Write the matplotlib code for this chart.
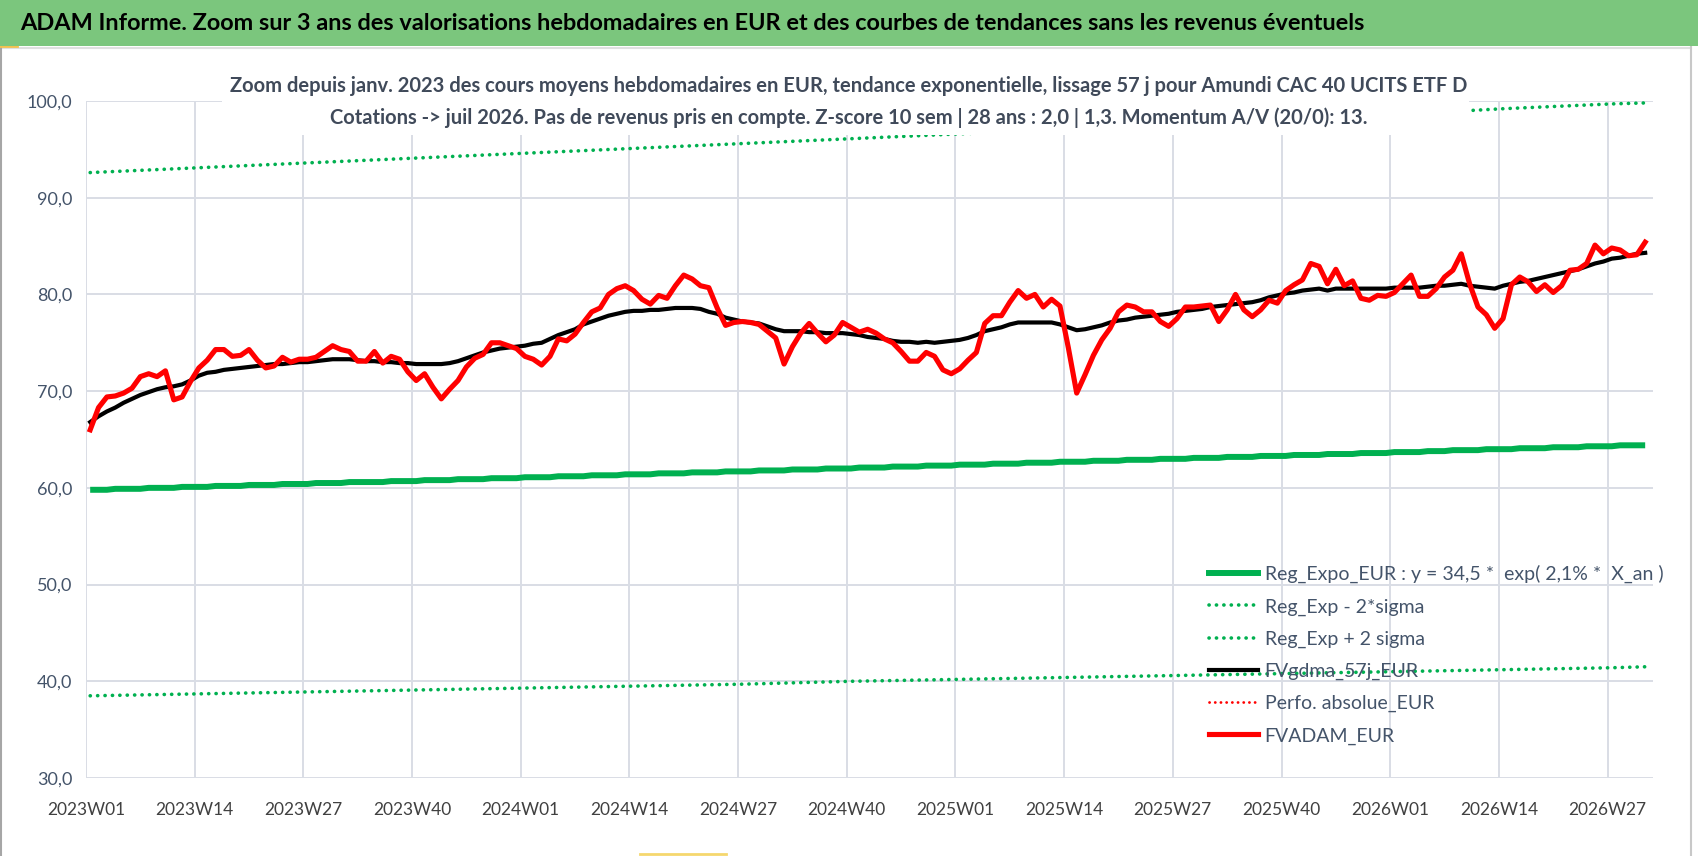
import matplotlib
matplotlib.use('Agg')
import matplotlib.pyplot as plt
import numpy as np
from matplotlib import font_manager
from matplotlib.lines import Line2D
from matplotlib.patches import Rectangle

# weekly values, 2023W01 .. 2026W31 (187 weeks)
fvadam_eur = [
    66.0, 68.3, 69.4, 69.5, 69.8, 70.3, 71.5, 71.8, 71.5, 72.1,
    69.1, 69.4, 71.0, 72.4, 73.2, 74.3, 74.3, 73.6, 73.7, 74.3,
    73.2, 72.4, 72.6, 73.5, 73.0, 73.3, 73.3, 73.5, 74.1, 74.7,
    74.3, 74.1, 73.1, 73.1, 74.1, 72.9, 73.6, 73.3, 72.0, 71.1,
    71.8, 70.4, 69.2, 70.2, 71.1, 72.5, 73.4, 73.8, 75.0, 75.0,
    74.7, 74.4, 73.6, 73.3, 72.7, 73.6, 75.4, 75.2, 75.9, 77.1,
    78.2, 78.6, 80.0, 80.6, 80.9, 80.4, 79.5, 79.0, 79.9, 79.6,
    80.9, 82.0, 81.6, 80.9, 80.7, 78.6, 76.8, 77.1, 77.2, 77.1,
    76.9, 76.2, 75.5, 72.8, 74.6, 76.0, 77.0, 76.0, 75.1, 75.8,
    77.1, 76.6, 76.1, 76.4, 76.0, 75.4, 75.0, 74.1, 73.1, 73.1,
    74.0, 73.6, 72.2, 71.8, 72.3, 73.2, 74.0, 77.0, 77.8, 77.8,
    79.2, 80.4, 79.6, 80.0, 78.7, 79.5, 78.8, 74.5, 69.8, 71.7,
    73.7, 75.3, 76.5, 78.2, 78.9, 78.7, 78.2, 78.2, 77.2, 76.7,
    77.5, 78.7, 78.7, 78.8, 78.9, 77.2, 78.4, 80.0, 78.4, 77.7,
    78.4, 79.4, 79.1, 80.4, 81.0, 81.5, 83.2, 82.9, 81.1, 82.6,
    80.9, 81.4, 79.6, 79.4, 79.9, 79.8, 80.2, 81.1, 82.0, 79.8,
    79.8, 80.6, 81.8, 82.5, 84.2, 81.1, 78.7, 77.9, 76.5, 77.5,
    81.0, 81.8, 81.3, 80.3, 81.0, 80.2, 80.9, 82.5, 82.6, 83.2,
    85.1, 84.2, 84.8, 84.6, 84.0, 84.1, 85.4,
]

fvgdma_57j = [
    66.8, 67.4, 67.9, 68.3, 68.8, 69.2, 69.6, 69.9, 70.2, 70.4,
    70.5, 70.7, 71.1, 71.6, 71.9, 72.0, 72.2, 72.3, 72.4, 72.5,
    72.6, 72.7, 72.8, 72.8, 72.9, 73.0, 73.0, 73.1, 73.2, 73.3,
    73.3, 73.3, 73.2, 73.1, 73.1, 73.0, 73.0, 72.9, 72.9, 72.8,
    72.8, 72.8, 72.8, 72.9, 73.1, 73.4, 73.7, 74.0, 74.2, 74.4,
    74.5, 74.6, 74.7, 74.9, 75.0, 75.4, 75.8, 76.1, 76.4, 76.9,
    77.2, 77.5, 77.8, 78.0, 78.2, 78.3, 78.3, 78.4, 78.4, 78.5,
    78.6, 78.6, 78.6, 78.5, 78.2, 78.0, 77.6, 77.4, 77.2, 77.1,
    77.0, 76.7, 76.4, 76.2, 76.2, 76.2, 76.1, 76.1, 76.0, 76.0,
    76.0, 75.9, 75.8, 75.6, 75.5, 75.4, 75.2, 75.1, 75.1, 75.0,
    75.1, 75.0, 75.1, 75.2, 75.3, 75.5, 75.8, 76.2, 76.4, 76.6,
    76.9, 77.1, 77.1, 77.1, 77.1, 77.1, 76.9, 76.6, 76.3, 76.4,
    76.6, 76.8, 77.1, 77.3, 77.4, 77.6, 77.7, 77.8, 77.9, 78.0,
    78.2, 78.3, 78.4, 78.5, 78.7, 78.8, 78.9, 79.0, 79.1, 79.2,
    79.4, 79.7, 79.9, 80.1, 80.2, 80.4, 80.5, 80.6, 80.4, 80.6,
    80.6, 80.6, 80.6, 80.6, 80.6, 80.6, 80.7, 80.7, 80.7, 80.7,
    80.8, 80.9, 80.9, 81.0, 81.1, 80.9, 80.8, 80.7, 80.6, 80.9,
    81.1, 81.3, 81.4, 81.6, 81.8, 82.0, 82.2, 82.4, 82.6, 82.9,
    83.2, 83.4, 83.7, 83.8, 84.0, 84.2, 84.3,
]

reg_expo = [
    59.8, 59.8, 59.8, 59.9, 59.9, 59.9, 59.9, 60.0, 60.0, 60.0,
    60.0, 60.1, 60.1, 60.1, 60.1, 60.2, 60.2, 60.2, 60.2, 60.3,
    60.3, 60.3, 60.3, 60.4, 60.4, 60.4, 60.4, 60.5, 60.5, 60.5,
    60.5, 60.6, 60.6, 60.6, 60.6, 60.6, 60.7, 60.7, 60.7, 60.7,
    60.8, 60.8, 60.8, 60.8, 60.9, 60.9, 60.9, 60.9, 61.0, 61.0,
    61.0, 61.0, 61.1, 61.1, 61.1, 61.1, 61.2, 61.2, 61.2, 61.2,
    61.3, 61.3, 61.3, 61.3, 61.4, 61.4, 61.4, 61.4, 61.5, 61.5,
    61.5, 61.5, 61.6, 61.6, 61.6, 61.6, 61.7, 61.7, 61.7, 61.7,
    61.8, 61.8, 61.8, 61.8, 61.9, 61.9, 61.9, 61.9, 62.0, 62.0,
    62.0, 62.0, 62.1, 62.1, 62.1, 62.1, 62.2, 62.2, 62.2, 62.2,
    62.3, 62.3, 62.3, 62.3, 62.4, 62.4, 62.4, 62.4, 62.5, 62.5,
    62.5, 62.5, 62.6, 62.6, 62.6, 62.6, 62.7, 62.7, 62.7, 62.7,
    62.8, 62.8, 62.8, 62.8, 62.9, 62.9, 62.9, 62.9, 63.0, 63.0,
    63.0, 63.0, 63.1, 63.1, 63.1, 63.1, 63.2, 63.2, 63.2, 63.2,
    63.3, 63.3, 63.3, 63.3, 63.4, 63.4, 63.4, 63.4, 63.5, 63.5,
    63.5, 63.5, 63.6, 63.6, 63.6, 63.6, 63.7, 63.7, 63.7, 63.7,
    63.8, 63.8, 63.8, 63.9, 63.9, 63.9, 63.9, 64.0, 64.0, 64.0,
    64.0, 64.1, 64.1, 64.1, 64.1, 64.2, 64.2, 64.2, 64.2, 64.3,
    64.3, 64.3, 64.3, 64.4, 64.4, 64.4, 64.4,
]

# sigma bands, read at every labelled week plus the last one
band_weeks = [0, 13, 26, 39, 52, 65, 78, 91, 104, 117, 130, 143, 156, 169, 182, 186]
reg_minus_2sigma = [38.5, 38.7, 38.9, 39.1, 39.3, 39.5, 39.7, 40.0, 40.2, 40.4, 40.6, 40.8, 41.0, 41.2, 41.4, 41.5]
reg_plus_2sigma = [92.6, 93.1, 93.6, 94.1, 94.6, 95.1, 95.6, 96.1, 96.6, 97.1, 97.6, 98.1, 98.6, 99.2, 99.7, 99.8]

tick_labels = ['2023W01', '2023W14', '2023W27', '2023W40', '2024W01', '2024W14', '2024W27', '2024W40',
               '2025W01', '2025W14', '2025W27', '2025W40', '2026W01', '2026W14', '2026W27']
y_ticks = [30, 40, 50, 60, 70, 80, 90, 100]

legend_labels = ['Reg_Expo_EUR : y = 34,5 *  exp( 2,1% *  X_an )', 'Reg_Exp - 2*sigma', 'Reg_Exp + 2 sigma',
                 'FVgdma_57j_EUR', 'Perfo. absolue_EUR', 'FVADAM_EUR']

banner_title = ('ADAM Informe. Zoom sur 3 ans des valorisations hebdomadaires en EUR '
                'et des courbes de tendances sans les revenus éventuels')
chart_title = ('Zoom depuis janv. 2023 des cours moyens hebdomadaires en EUR, tendance exponentielle, '
               'lissage 57 j pour Amundi CAC 40 UCITS ETF D\n'
               'Cotations -> juil 2026. Pas de revenus pris en compte. Z-score 10 sem | 28 ans : 2,0 | 1,3. '
               'Momentum A/V (20/0): 13.')

# fonts: something close to the Calibri of the original
installed = {f.name for f in font_manager.fontManager.ttflist}
main_font = 'Lato' if 'Lato' in installed else 'Roboto'
plt.rcParams['font.family'] = [main_font, 'DejaVu Sans']

GREEN = '#00B050'
RED = '#FF0000'
GRID = '#D9DDE5'
SLATE = '#44546A'

W, H = 1698, 856
fig = plt.figure(figsize=(W / 100, H / 100), dpi=100)
fig.patch.set_facecolor('white')


def fx(px):
    return px / W


def fy(py):
    return 1 - py / H


ax = fig.add_axes([fx(86), fy(778), fx(1652.7) - fx(86), fy(101) - fy(778)])
ax.set_facecolor('white')
for s in ax.spines.values():
    s.set_visible(False)

x = np.arange(len(fvadam_eur))
dotted = (0, (0.05, 2.0))

ax.plot(x, reg_expo, color=GREEN, lw=4.3, solid_capstyle='butt', zorder=3)
ax.plot(band_weeks, reg_minus_2sigma, color=GREEN, lw=2.6, ls=dotted, dash_capstyle='round', zorder=3)
ax.plot(band_weeks, reg_plus_2sigma, color=GREEN, lw=2.6, ls=dotted, dash_capstyle='round', zorder=3)
ax.plot(x, fvgdma_57j, color='black', lw=3.0, zorder=4)
ax.plot(x, fvadam_eur, color=RED, lw=3.7, zorder=5)

ax.set_xlim(-0.5, 186.9)
ax.set_ylim(30, 100)
ax.set_xticks(np.arange(len(tick_labels)) * 13 - 0.5)
ax.set_xticklabels(tick_labels, color='#404040', fontsize=12.5)
ax.set_yticks(y_ticks)
ax.set_yticklabels([f'{v:.1f}'.replace('.', ',') for v in y_ticks], color=SLATE, fontsize=13)
ax.tick_params(axis='x', length=0, pad=17)
ax.tick_params(axis='y', length=0, pad=10)
ax.grid(True, color=GRID, lw=1.4)
ax.set_axisbelow(True)

handles = [
    Line2D([], [], color=GREEN, lw=4.3),
    Line2D([], [], color=GREEN, lw=2.6, ls=dotted, dash_capstyle='round'),
    Line2D([], [], color=GREEN, lw=2.6, ls=dotted, dash_capstyle='round'),
    Line2D([], [], color='black', lw=3.0),
    Line2D([], [], color=RED, lw=2.0, ls=dotted, dash_capstyle='round'),
    Line2D([], [], color=RED, lw=3.7),
]
leg = ax.legend(handles, legend_labels, loc='upper left', bbox_to_anchor=(fx(1209), fy(565)),
                bbox_transform=fig.transFigure, frameon=False, fontsize=14, handlelength=2.5,
                handletextpad=0.36, labelspacing=0.77, borderpad=0, borderaxespad=0)
for t in leg.get_texts():
    t.set_color(SLATE)

# green banner on top
fig.patches.append(Rectangle((0, fy(46)), 1, 46 / H, transform=fig.transFigure,
                             facecolor='#7BC67D', edgecolor='none', zorder=8))
banner = fig.text(fx(20), fy(23), banner_title, ha='left', va='center', fontsize=22,
                  fontweight='bold', color='black', zorder=9)

# white box behind the chart title, it hides what runs under it
fig.patches.append(Rectangle((fx(222), fy(135)), fx(1469) - fx(222), (135 - 60) / H,
                             transform=fig.transFigure, facecolor='white', edgecolor='none', zorder=8))
title = fig.text(fx(849), fy(102), chart_title, ha='center', va='center', fontsize=15,
                 fontweight='bold', color='#404A5A', linespacing=1.68, zorder=9)

# frame and small marks
fig.add_artist(Line2D([fx(0), fx(1691)], [fy(48), fy(48)], transform=fig.transFigure, color='#E0E0E0', lw=1.5))
fig.add_artist(Line2D([fx(1), fx(1)], [fy(0), fy(856)], transform=fig.transFigure, color='#A6A6A6', lw=1.5))
fig.add_artist(Line2D([fx(1691), fx(1691)], [fy(46), fy(856)], transform=fig.transFigure, color='#C8C8C8', lw=1.5))
fig.add_artist(Line2D([fx(0), fx(1698)], [fy(1), fy(1)], transform=fig.transFigure, color='#A6A6A6', lw=1.5))
fig.add_artist(Line2D([fx(0), fx(17)], [fy(46), fy(46)], transform=fig.transFigure, color='#F2C14E', lw=2.0))
fig.add_artist(Line2D([fx(640), fx(726)], [fy(854), fy(854)], transform=fig.transFigure, color='#F5D76E', lw=2.0))

# size the two titles to the widths they have in the original
renderer = fig.canvas.get_renderer()
for txt, target in [(banner, 1343), (title, 1245)]:
    w = txt.get_window_extent(renderer).width
    txt.set_fontsize(txt.get_fontsize() * target / w)

fig.savefig('out.png', dpi=100)
